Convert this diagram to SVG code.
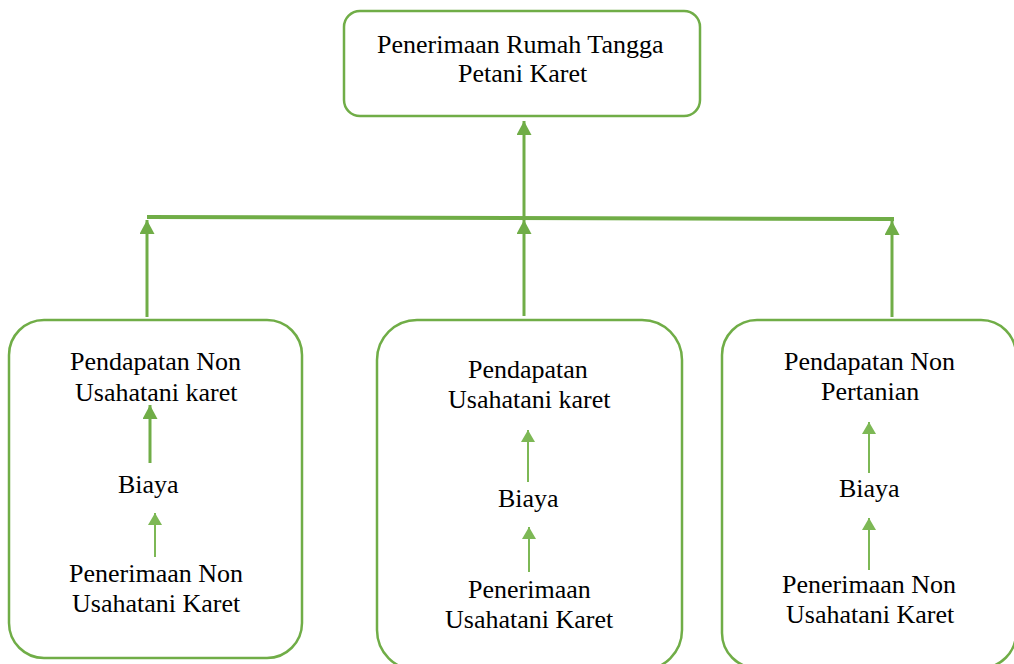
<svg xmlns="http://www.w3.org/2000/svg" width="1014" height="664" viewBox="0 0 1014 664">
  <defs>
    <marker id="ah" markerUnits="userSpaceOnUse" markerWidth="16" markerHeight="15" refX="14" refY="7.5" orient="auto">
      <path d="M0,0 L14,7.5 L0,15 Z" fill="#70AD47"/>
    </marker>
    <marker id="ahs" markerUnits="userSpaceOnUse" markerWidth="14" markerHeight="15" refX="12" refY="7.5" orient="auto">
      <path d="M0,0.5 L12,7.5 L0,14.5 Z" fill="#7DB855"/>
    </marker>
  </defs>

  <g id="connectors" stroke="#70AD47" fill="none">
    <line stroke-width="3" x1="524" y1="218" x2="524" y2="121" marker-end="url(#ah)"/>
    <line stroke-width="4" x1="147" y1="217" x2="894" y2="219"/>
    <line stroke-width="3" x1="147" y1="317" x2="147" y2="220" marker-end="url(#ah)"/>
    <line stroke-width="3" x1="524" y1="316" x2="524" y2="220" marker-end="url(#ah)"/>
    <line stroke-width="3" x1="892" y1="317" x2="892" y2="221" marker-end="url(#ah)"/>
  </g>

  <g id="node-top">
    <rect fill="#ffffff" stroke="#70AD47" stroke-width="2.5" x="344" y="11" width="356" height="105" rx="16"/>
    <text font-family="Liberation Serif" font-size="26" x="377" y="53">Penerimaan Rumah Tangga</text>
    <text font-family="Liberation Serif" font-size="26" x="458" y="82">Petani Karet</text>
  </g>

  <g id="node-left">
    <rect fill="#ffffff" stroke="#70AD47" stroke-width="2.5" x="9" y="320" width="293" height="338" rx="35"/>
    <text font-family="Liberation Serif" font-size="26" x="70" y="370">Pendapatan Non</text>
    <text font-family="Liberation Serif" font-size="26" x="75" y="401">Usahatani karet</text>
    <text font-family="Liberation Serif" font-size="26" x="118" y="493">Biaya</text>
    <text font-family="Liberation Serif" font-size="26" x="69" y="582">Penerimaan Non</text>
    <text font-family="Liberation Serif" font-size="26" x="72" y="612">Usahatani Karet</text>
    <line stroke="#70AD47" stroke-width="3" x1="150" y1="463" x2="150" y2="405" marker-end="url(#ah)"/>
    <line stroke="#7DB855" stroke-width="2" x1="155" y1="557" x2="155" y2="513" marker-end="url(#ahs)"/>
  </g>

  <g id="node-middle">
    <rect fill="#ffffff" stroke="#70AD47" stroke-width="2.5" x="377" y="320" width="305" height="350" rx="40"/>
    <text font-family="Liberation Serif" font-size="26" x="468" y="378">Pendapatan</text>
    <text font-family="Liberation Serif" font-size="26" x="448" y="408">Usahatani karet</text>
    <text font-family="Liberation Serif" font-size="26" x="498" y="507">Biaya</text>
    <text font-family="Liberation Serif" font-size="26" x="468" y="598">Penerimaan</text>
    <text font-family="Liberation Serif" font-size="26" x="445" y="628">Usahatani Karet</text>
    <line stroke="#7DB855" stroke-width="2" x1="528" y1="482" x2="528" y2="430" marker-end="url(#ahs)"/>
    <line stroke="#7DB855" stroke-width="2" x1="529" y1="572" x2="529" y2="527" marker-end="url(#ahs)"/>
  </g>

  <g id="node-right">
    <rect fill="#ffffff" stroke="#70AD47" stroke-width="2.5" x="722" y="320" width="294" height="348" rx="35"/>
    <text font-family="Liberation Serif" font-size="26" x="784" y="370">Pendapatan Non</text>
    <text font-family="Liberation Serif" font-size="26" x="821" y="400">Pertanian</text>
    <text font-family="Liberation Serif" font-size="26" x="839" y="497">Biaya</text>
    <text font-family="Liberation Serif" font-size="26" x="782" y="593">Penerimaan Non</text>
    <text font-family="Liberation Serif" font-size="26" x="786" y="623">Usahatani Karet</text>
    <line stroke="#7DB855" stroke-width="2" x1="869" y1="473" x2="869" y2="422" marker-end="url(#ahs)"/>
    <line stroke="#7DB855" stroke-width="2" x1="869" y1="570" x2="869" y2="518" marker-end="url(#ahs)"/>
  </g>
</svg>
